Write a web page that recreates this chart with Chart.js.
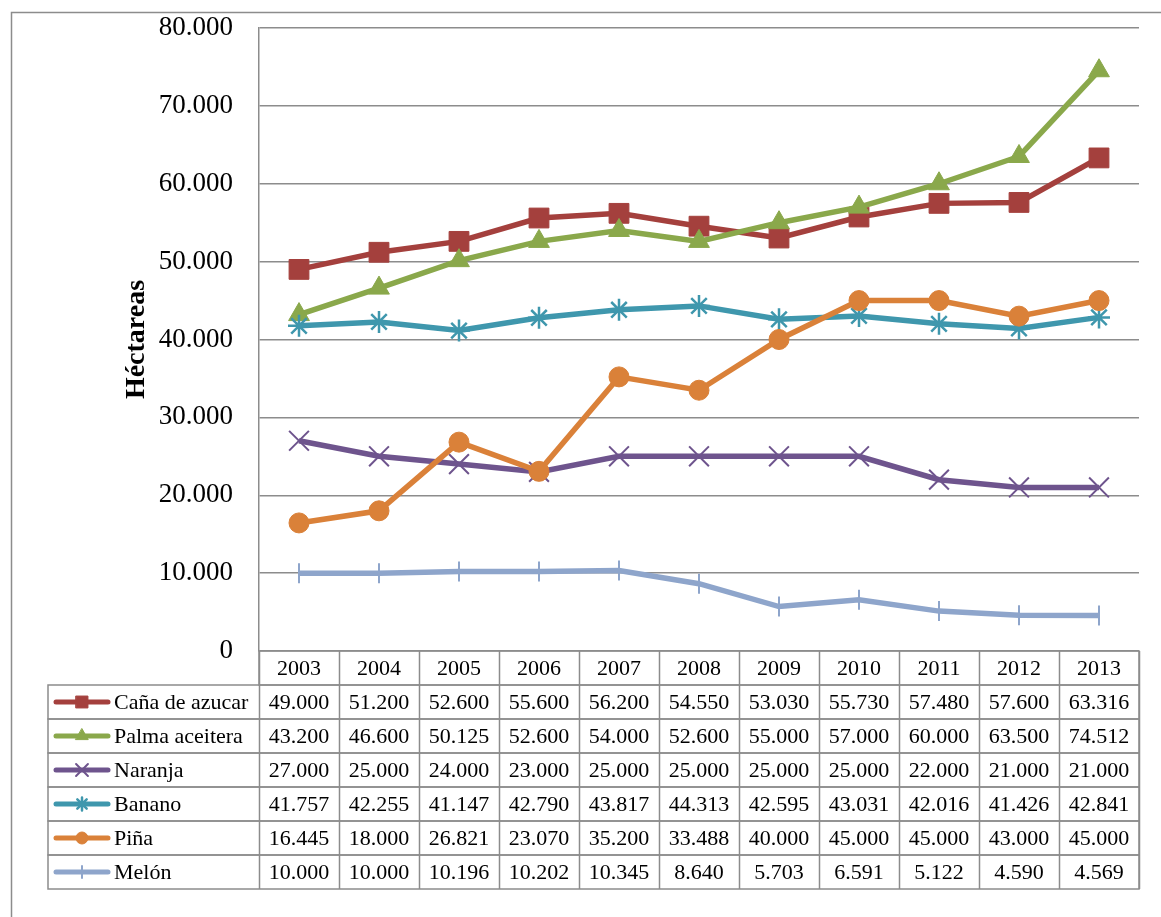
<!DOCTYPE html>
<html>
<head>
<meta charset="utf-8">
<script src="https://cdn.jsdelivr.net/npm/chart.js@4"></script>
<style>
  html, body { margin: 0; padding: 0; background: #fff; }
  #wrap { width: 1161px; height: 917px; }
</style>
</head>
<body>
<div id="wrap"><canvas id="chart" width="1161" height="917"></canvas></div>
<script>
const years = ["2003", "2004", "2005", "2006", "2007", "2008", "2009", "2010", "2011", "2012", "2013"];
const cana = [49000, 51200, 52600, 55600, 56200, 54550, 53030, 55730, 57480, 57600, 63316];
const palma = [43200, 46600, 50125, 52600, 54000, 52600, 55000, 57000, 60000, 63500, 74512];
const naranja = [27000, 25000, 24000, 23000, 25000, 25000, 25000, 25000, 22000, 21000, 21000];
const banano = [41757, 42255, 41147, 42790, 43817, 44313, 42595, 43031, 42016, 41426, 42841];
const pina = [16445, 18000, 26821, 23070, 35200, 33488, 40000, 45000, 45000, 43000, 45000];
const melon = [10000, 10000, 10196, 10202, 10345, 8640, 5703, 6591, 5122, 4590, 4569];

const FONT = "'Liberation Serif', 'DejaVu Serif', serif";
const GRID = "#8c8c8c";

// thousands with a dot, like the spanish excel
function fmt(v) {
  return String(Math.round(v)).replace(/\B(?=(\d{3})+(?!\d))/g, ".");
}

const series = [
  { label: "Caña de azucar", data: cana, color: "#a4403d", style: "rect", radius: 14, bw: 1 },
  { label: "Palma aceitera", data: palma, color: "#8aa84b", style: "triangle", radius: 12, bw: 1 },
  { label: "Naranja", data: naranja, color: "#6e548d", style: "crossRot", radius: 14, bw: 2 },
  { label: "Banano", data: banano, color: "#3f97ad", style: "star", radius: 11, bw: 2.5 },
  { label: "Piña", data: pina, color: "#da8139", style: "circle", radius: 10, bw: 1 },
  { label: "Melón", data: melon, color: "#8ea5cb", style: "line", radius: 10, bw: 2, rot: 90 }
];

const frame = {
  id: "frame",
  beforeDraw(chart) {
    const ctx = chart.ctx;
    ctx.save();
    ctx.fillStyle = "#fff";
    ctx.fillRect(0, 0, chart.width, chart.height);
    ctx.strokeStyle = GRID;
    ctx.lineWidth = 1.5;
    ctx.strokeRect(11.5, 12.5, chart.width + 20, chart.height + 20);
    ctx.restore();
  }
};

// data table under the plot, with the legend keys in the first column
const dataTable = {
  id: "dataTable",
  afterDraw(chart) {
    const ctx = chart.ctx;
    const x = chart.scales.x;
    const area = chart.chartArea;
    const rowH = 34;
    const top = area.bottom;
    const tableLeft = 48;
    const colW = (area.right - area.left) / years.length;
    ctx.save();
    ctx.strokeStyle = GRID;
    ctx.lineWidth = 1.5;
    // header row
    ctx.strokeRect(area.left, top, area.right - area.left, rowH);
    // body rows
    for (let r = 0; r < series.length; r++) {
      ctx.strokeRect(tableLeft, top + rowH * (r + 1), area.right - tableLeft, rowH);
    }
    ctx.beginPath();
    for (let i = 0; i <= years.length; i++) {
      const cx = Math.round(area.left + colW * i) + 0.5;
      ctx.moveTo(cx, top);
      ctx.lineTo(cx, top + rowH * (series.length + 1));
    }
    ctx.stroke();

    ctx.fillStyle = "#000";
    ctx.font = "22px " + FONT;
    ctx.textAlign = "center";
    ctx.textBaseline = "middle";
    years.forEach((y, i) => {
      ctx.fillText(y, x.getPixelForValue(i), top + rowH / 2 + 1);
    });
    series.forEach((s, r) => {
      const cy = top + rowH * (r + 1) + rowH / 2 + 1;
      s.data.forEach((v, i) => {
        ctx.fillText(fmt(v), x.getPixelForValue(i), cy);
      });
      // legend key
      ctx.save();
      ctx.strokeStyle = s.color;
      ctx.fillStyle = s.color;
      ctx.lineWidth = 5;
      ctx.lineCap = "round";
      ctx.beginPath();
      ctx.moveTo(56, cy - 1);
      ctx.lineTo(108, cy - 1);
      ctx.stroke();
      ctx.lineWidth = s.bw;
      Chart.helpers.drawPoint(ctx, {
        pointStyle: s.style,
        radius: s.radius * 0.6,
        rotation: s.rot || 0,
        borderWidth: s.bw
      }, 82, cy - 1);
      ctx.restore();
      ctx.textAlign = "left";
      ctx.fillText(s.label, 114, cy);
      ctx.textAlign = "center";
    });
    ctx.restore();
  }
};

new Chart(document.getElementById("chart"), {
  type: "line",
  data: {
    labels: years,
    datasets: series.map((s, i) => ({
      label: s.label,
      data: s.data,
      borderColor: s.color,
      backgroundColor: s.color,
      borderWidth: 5.5,
      pointStyle: s.style,
      pointRadius: s.radius,
      pointRotation: s.rot || 0,
      pointBorderWidth: s.bw,
      pointBackgroundColor: s.color,
      pointBorderColor: s.color,
      tension: 0,
      order: 10 - i
    }))
  },
  options: {
    responsive: false,
    animation: false,
    layout: { padding: { left: 0, top: 28, right: 22, bottom: 0 } },
    plugins: {
      legend: { display: false },
      tooltip: { enabled: false }
    },
    scales: {
      x: {
        offset: true,
        grid: { display: false },
        border: { display: false },
        ticks: { display: false },
        afterFit(scale) { scale.height = 917 - 651; }
      },
      y: {
        min: 0,
        max: 80000,
        ticks: {
          stepSize: 10000,
          padding: 11,
          color: "#000",
          font: { family: FONT, size: 27 },
          callback: (v) => fmt(v)
        },
        // invisible tick marks, only there to push the labels away from the axis
        grid: { color: GRID, lineWidth: 1.5, drawTicks: true, tickLength: 15, tickColor: "rgba(0,0,0,0)" },
        border: { display: true, color: GRID, width: 1.5 },
        title: {
          display: true,
          text: "Héctareas",
          color: "#000",
          font: { family: FONT, size: 28, weight: "bold" },
          padding: { top: 120, bottom: 0 }
        },
        afterFit(scale) { scale.width = 259; }
      }
    }
  },
  plugins: [frame, dataTable]
});
</script>
</body>
</html>
